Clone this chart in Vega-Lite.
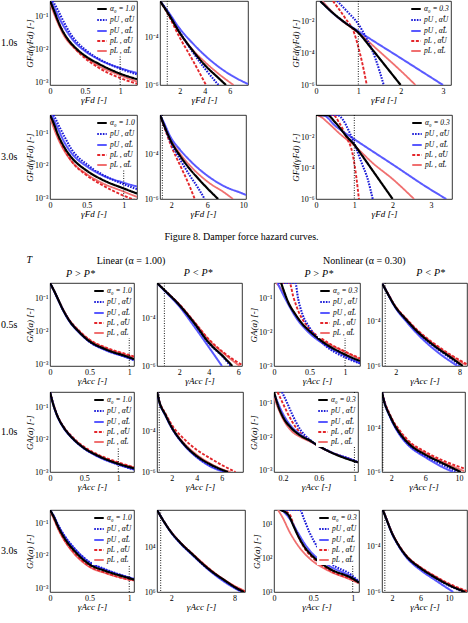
{
"$schema":"https://vega.github.io/schema/vega-lite/v6.json",
"background":"white",
"padding":0,
"spacing":12,
"resolve":{"scale":{"color":"independent","strokeDash":"independent","strokeWidth":"independent"}},
"datasets":{"c":[
{"p":"8A1","s":"e","x":0,"y":0.25},{"p":"8A1","s":"e","x":0.08,"y":0.09},{"p":"8A1","s":"e","x":0.2,"y":0.026},{"p":"8A1","s":"e","x":0.35,"y":0.011},{"p":"8A1","s":"e","x":0.5,"y":0.006},{"p":"8A1","s":"e","x":0.7,"y":0.0032},{"p":"8A1","s":"e","x":1,"y":0.0017},{"p":"8A1","s":"e","x":1.24,"y":0.0011},
{"p":"8A1","s":"d","x":0.02,"y":0.285},{"p":"8A1","s":"d","x":0.1,"y":0.085},{"p":"8A1","s":"d","x":0.2,"y":0.03},{"p":"8A1","s":"d","x":0.35,"y":0.011},{"p":"8A1","s":"d","x":0.5,"y":0.0055},{"p":"8A1","s":"d","x":0.7,"y":0.0028},{"p":"8A1","s":"d","x":1,"y":0.0014},{"p":"8A1","s":"d","x":1.24,"y":0.00095},
{"p":"8A1","s":"c","x":0.02,"y":0.285},{"p":"8A1","s":"c","x":0.1,"y":0.12},{"p":"8A1","s":"c","x":0.2,"y":0.048},{"p":"8A1","s":"c","x":0.35,"y":0.017},{"p":"8A1","s":"c","x":0.5,"y":0.009},{"p":"8A1","s":"c","x":0.7,"y":0.005},{"p":"8A1","s":"c","x":1,"y":0.0028},{"p":"8A1","s":"c","x":1.24,"y":0.002},
{"p":"8A1","s":"b","x":0.04,"y":0.285},{"p":"8A1","s":"b","x":0.1,"y":0.17},{"p":"8A1","s":"b","x":0.2,"y":0.065},{"p":"8A1","s":"b","x":0.3,"y":0.028},{"p":"8A1","s":"b","x":0.5,"y":0.01},{"p":"8A1","s":"b","x":0.7,"y":0.0052},{"p":"8A1","s":"b","x":1,"y":0.0027},{"p":"8A1","s":"b","x":1.24,"y":0.0018},
{"p":"8A1","s":"a","x":0,"y":0.285},{"p":"8A1","s":"a","x":0.05,"y":0.16},{"p":"8A1","s":"a","x":0.1,"y":0.085},{"p":"8A1","s":"a","x":0.15,"y":0.048},{"p":"8A1","s":"a","x":0.25,"y":0.021},{"p":"8A1","s":"a","x":0.35,"y":0.012},{"p":"8A1","s":"a","x":0.5,"y":0.0065},{"p":"8A1","s":"a","x":0.7,"y":0.0037},{"p":"8A1","s":"a","x":1,"y":0.0019},{"p":"8A1","s":"a","x":1.24,"y":0.0013},

{"p":"8B1","s":"e","x":0.42,"y":0.0035},{"p":"8B1","s":"e","x":1,"y":0.0012},{"p":"8B1","s":"e","x":2,"y":0.00015},{"p":"8B1","s":"e","x":3,"y":3.2e-5},{"p":"8B1","s":"e","x":4,"y":9.5e-6},{"p":"8B1","s":"e","x":5,"y":3.3e-6},{"p":"8B1","s":"e","x":6.3,"y":1e-6},
{"p":"8B1","s":"d","x":0.42,"y":0.0035},{"p":"8B1","s":"d","x":1,"y":0.0011},{"p":"8B1","s":"d","x":2,"y":0.0001},{"p":"8B1","s":"d","x":3,"y":1.2e-5},{"p":"8B1","s":"d","x":4.1,"y":1e-6},
{"p":"8B1","s":"c","x":0.42,"y":0.0035},{"p":"8B1","s":"c","x":1,"y":0.0014},{"p":"8B1","s":"c","x":2,"y":0.00024},{"p":"8B1","s":"c","x":3,"y":6e-5},{"p":"8B1","s":"c","x":4,"y":1.8e-5},{"p":"8B1","s":"c","x":5,"y":6.5e-6},{"p":"8B1","s":"c","x":6,"y":2.8e-6},{"p":"8B1","s":"c","x":7.46,"y":1.1e-6},
{"p":"8B1","s":"b","x":0.42,"y":0.0035},{"p":"8B1","s":"b","x":1,"y":0.0013},{"p":"8B1","s":"b","x":2,"y":0.00017},{"p":"8B1","s":"b","x":3,"y":2.6e-5},{"p":"8B1","s":"b","x":4,"y":5e-6},{"p":"8B1","s":"b","x":5.1,"y":1e-6},
{"p":"8B1","s":"a","x":0.42,"y":0.0035},{"p":"8B1","s":"a","x":1,"y":0.0012},{"p":"8B1","s":"a","x":2,"y":0.00016},{"p":"8B1","s":"a","x":3,"y":3e-5},{"p":"8B1","s":"a","x":4,"y":7e-6},{"p":"8B1","s":"a","x":5,"y":2.2e-6},{"p":"8B1","s":"a","x":5.7,"y":1e-6},

{"p":"8C1","s":"e","x":0.15,"y":0.2},{"p":"8C1","s":"e","x":0.5,"y":0.02},{"p":"8C1","s":"e","x":1,"y":0.002},{"p":"8C1","s":"e","x":1.5,"y":0.00013},{"p":"8C1","s":"e","x":2,"y":8e-6},{"p":"8C1","s":"e","x":2.35,"y":1e-6},
{"p":"8C1","s":"d","x":0.4,"y":0.2},{"p":"8C1","s":"d","x":0.7,"y":0.015},{"p":"8C1","s":"d","x":0.9,"y":0.002},{"p":"8C1","s":"d","x":1,"y":0.00025},{"p":"8C1","s":"d","x":1.1,"y":2e-5},{"p":"8C1","s":"d","x":1.2,"y":1e-6},
{"p":"8C1","s":"c","x":0.1,"y":0.2},{"p":"8C1","s":"c","x":0.5,"y":0.02},{"p":"8C1","s":"c","x":1,"y":0.0025},{"p":"8C1","s":"c","x":2,"y":5e-5},{"p":"8C1","s":"c","x":3,"y":1e-6},
{"p":"8C1","s":"b","x":0.5,"y":0.2},{"p":"8C1","s":"b","x":0.75,"y":0.04},{"p":"8C1","s":"b","x":1,"y":0.007},{"p":"8C1","s":"b","x":1.2,"y":0.0008},{"p":"8C1","s":"b","x":1.4,"y":5e-5},{"p":"8C1","s":"b","x":1.6,"y":1e-6},
{"p":"8C1","s":"a","x":0.1,"y":0.2},{"p":"8C1","s":"a","x":0.4,"y":0.035},{"p":"8C1","s":"a","x":0.7,"y":0.008},{"p":"8C1","s":"a","x":1,"y":0.002},{"p":"8C1","s":"a","x":1.3,"y":0.00022},{"p":"8C1","s":"a","x":1.6,"y":2.2e-5},{"p":"8C1","s":"a","x":2,"y":1e-6},

{"p":"8A2","s":"e","x":0,"y":0.3},{"p":"8A2","s":"e","x":0.1,"y":0.075},{"p":"8A2","s":"e","x":0.2,"y":0.027},{"p":"8A2","s":"e","x":0.3,"y":0.013},{"p":"8A2","s":"e","x":0.5,"y":0.0055},{"p":"8A2","s":"e","x":0.7,"y":0.003},{"p":"8A2","s":"e","x":1,"y":0.0016},{"p":"8A2","s":"e","x":1.18,"y":0.0011},
{"p":"8A2","s":"d","x":0.02,"y":0.36},{"p":"8A2","s":"d","x":0.1,"y":0.09},{"p":"8A2","s":"d","x":0.2,"y":0.03},{"p":"8A2","s":"d","x":0.3,"y":0.013},{"p":"8A2","s":"d","x":0.5,"y":0.005},{"p":"8A2","s":"d","x":0.7,"y":0.0026},{"p":"8A2","s":"d","x":1,"y":0.0012},{"p":"8A2","s":"d","x":1.18,"y":0.00085},
{"p":"8A2","s":"c","x":0.02,"y":0.36},{"p":"8A2","s":"c","x":0.1,"y":0.15},{"p":"8A2","s":"c","x":0.2,"y":0.05},{"p":"8A2","s":"c","x":0.3,"y":0.023},{"p":"8A2","s":"c","x":0.5,"y":0.0095},{"p":"8A2","s":"c","x":0.7,"y":0.0052},{"p":"8A2","s":"c","x":1,"y":0.003},{"p":"8A2","s":"c","x":1.18,"y":0.0023},
{"p":"8A2","s":"b","x":0.05,"y":0.36},{"p":"8A2","s":"b","x":0.1,"y":0.21},{"p":"8A2","s":"b","x":0.2,"y":0.075},{"p":"8A2","s":"b","x":0.3,"y":0.03},{"p":"8A2","s":"b","x":0.5,"y":0.011},{"p":"8A2","s":"b","x":0.7,"y":0.0055},{"p":"8A2","s":"b","x":1,"y":0.0027},{"p":"8A2","s":"b","x":1.18,"y":0.0019},
{"p":"8A2","s":"a","x":0,"y":0.36},{"p":"8A2","s":"a","x":0.05,"y":0.2},{"p":"8A2","s":"a","x":0.1,"y":0.1},{"p":"8A2","s":"a","x":0.2,"y":0.035},{"p":"8A2","s":"a","x":0.3,"y":0.017},{"p":"8A2","s":"a","x":0.5,"y":0.007},{"p":"8A2","s":"a","x":0.7,"y":0.0038},{"p":"8A2","s":"a","x":1,"y":0.002},{"p":"8A2","s":"a","x":1.18,"y":0.0014},

{"p":"8B2","s":"e","x":0.74,"y":0.0055},{"p":"8B2","s":"e","x":1,"y":0.003},{"p":"8B2","s":"e","x":2,"y":0.0004},{"p":"8B2","s":"e","x":3,"y":0.0001},{"p":"8B2","s":"e","x":4,"y":3.3e-5},{"p":"8B2","s":"e","x":6,"y":6e-6},{"p":"8B2","s":"e","x":8,"y":1.8e-6},{"p":"8B2","s":"e","x":8.85,"y":1e-6},
{"p":"8B2","s":"d","x":0.74,"y":0.0055},{"p":"8B2","s":"d","x":1,"y":0.0028},{"p":"8B2","s":"d","x":2,"y":0.00022},{"p":"8B2","s":"d","x":3,"y":3e-5},{"p":"8B2","s":"d","x":4,"y":4e-6},{"p":"8B2","s":"d","x":4.6,"y":1e-6},
{"p":"8B2","s":"c","x":0.74,"y":0.0055},{"p":"8B2","s":"c","x":1,"y":0.0035},{"p":"8B2","s":"c","x":2,"y":0.0005},{"p":"8B2","s":"c","x":3,"y":0.00015},{"p":"8B2","s":"c","x":4,"y":5.5e-5},{"p":"8B2","s":"c","x":6,"y":1.1e-5},{"p":"8B2","s":"c","x":8,"y":3.5e-6},{"p":"8B2","s":"c","x":10,"y":1.7e-6},{"p":"8B2","s":"c","x":10.3,"y":1.5e-6},
{"p":"8B2","s":"b","x":0.74,"y":0.0055},{"p":"8B2","s":"b","x":1,"y":0.003},{"p":"8B2","s":"b","x":2,"y":0.0003},{"p":"8B2","s":"b","x":3,"y":5.5e-5},{"p":"8B2","s":"b","x":4,"y":1.2e-5},{"p":"8B2","s":"b","x":5,"y":3e-6},{"p":"8B2","s":"b","x":5.7,"y":1e-6},
{"p":"8B2","s":"a","x":0.74,"y":0.0055},{"p":"8B2","s":"a","x":1,"y":0.003},{"p":"8B2","s":"a","x":2,"y":0.00035},{"p":"8B2","s":"a","x":3,"y":8e-5},{"p":"8B2","s":"a","x":4,"y":2.3e-5},{"p":"8B2","s":"a","x":5,"y":8e-6},{"p":"8B2","s":"a","x":6,"y":3e-6},{"p":"8B2","s":"a","x":7.2,"y":1e-6},

{"p":"8C2","s":"e","x":0,"y":0.3},{"p":"8C2","s":"e","x":0.1,"y":0.25},{"p":"8C2","s":"e","x":0.3,"y":0.1},{"p":"8C2","s":"e","x":0.6,"y":0.02},{"p":"8C2","s":"e","x":1,"y":0.003},{"p":"8C2","s":"e","x":1.5,"y":0.0002},{"p":"8C2","s":"e","x":2,"y":2e-5},{"p":"8C2","s":"e","x":2.56,"y":1e-6},
{"p":"8C2","s":"d","x":0,"y":0.3},{"p":"8C2","s":"d","x":0.45,"y":0.3},{"p":"8C2","s":"d","x":0.6,"y":0.1},{"p":"8C2","s":"d","x":0.8,"y":0.01},{"p":"8C2","s":"d","x":0.95,"y":0.001},{"p":"8C2","s":"d","x":1.05,"y":3e-5},{"p":"8C2","s":"d","x":1.12,"y":1e-6},
{"p":"8C2","s":"c","x":0,"y":0.3},{"p":"8C2","s":"c","x":0.2,"y":0.28},{"p":"8C2","s":"c","x":0.5,"y":0.06},{"p":"8C2","s":"c","x":1,"y":0.008},{"p":"8C2","s":"c","x":2,"y":0.00018},{"p":"8C2","s":"c","x":3,"y":4e-6},{"p":"8C2","s":"c","x":3.4,"y":1e-6},
{"p":"8C2","s":"b","x":0,"y":0.3},{"p":"8C2","s":"b","x":0.55,"y":0.3},{"p":"8C2","s":"b","x":0.7,"y":0.15},{"p":"8C2","s":"b","x":0.85,"y":0.03},{"p":"8C2","s":"b","x":1,"y":0.004},{"p":"8C2","s":"b","x":1.2,"y":0.0002},{"p":"8C2","s":"b","x":1.35,"y":2e-5},{"p":"8C2","s":"b","x":1.48,"y":1e-6},
{"p":"8C2","s":"a","x":0,"y":0.3},{"p":"8C2","s":"a","x":0.3,"y":0.29},{"p":"8C2","s":"a","x":0.5,"y":0.1},{"p":"8C2","s":"a","x":0.8,"y":0.012},{"p":"8C2","s":"a","x":1,"y":0.0035},{"p":"8C2","s":"a","x":1.2,"y":0.0007},{"p":"8C2","s":"a","x":1.5,"y":6e-5},{"p":"8C2","s":"a","x":2,"y":1e-6},

{"p":"9A1","s":"e","x":0,"y":0.305},{"p":"9A1","s":"e","x":0.05,"y":0.18},{"p":"9A1","s":"e","x":0.1,"y":0.1},{"p":"9A1","s":"e","x":0.15,"y":0.056},{"p":"9A1","s":"e","x":0.25,"y":0.022},{"p":"9A1","s":"e","x":0.35,"y":0.0118},{"p":"9A1","s":"e","x":0.5,"y":0.0057},{"p":"9A1","s":"e","x":0.7,"y":0.0033},{"p":"9A1","s":"e","x":1,"y":0.0019},{"p":"9A1","s":"e","x":1.06,"y":0.0017},
{"p":"9A1","s":"d","x":0,"y":0.305},{"p":"9A1","s":"d","x":0.05,"y":0.18},{"p":"9A1","s":"d","x":0.1,"y":0.1},{"p":"9A1","s":"d","x":0.15,"y":0.056},{"p":"9A1","s":"d","x":0.25,"y":0.022},{"p":"9A1","s":"d","x":0.35,"y":0.012},{"p":"9A1","s":"d","x":0.5,"y":0.0058},{"p":"9A1","s":"d","x":0.7,"y":0.0034},{"p":"9A1","s":"d","x":1,"y":0.002},{"p":"9A1","s":"d","x":1.06,"y":0.0018},
{"p":"9A1","s":"c","x":0,"y":0.3},{"p":"9A1","s":"c","x":0.05,"y":0.175},{"p":"9A1","s":"c","x":0.1,"y":0.097},{"p":"9A1","s":"c","x":0.15,"y":0.053},{"p":"9A1","s":"c","x":0.25,"y":0.02},{"p":"9A1","s":"c","x":0.35,"y":0.0105},{"p":"9A1","s":"c","x":0.5,"y":0.005},{"p":"9A1","s":"c","x":0.7,"y":0.0028},{"p":"9A1","s":"c","x":1,"y":0.0016},{"p":"9A1","s":"c","x":1.06,"y":0.0014},
{"p":"9A1","s":"b","x":0,"y":0.305},{"p":"9A1","s":"b","x":0.05,"y":0.18},{"p":"9A1","s":"b","x":0.1,"y":0.1},{"p":"9A1","s":"b","x":0.15,"y":0.055},{"p":"9A1","s":"b","x":0.25,"y":0.021},{"p":"9A1","s":"b","x":0.35,"y":0.011},{"p":"9A1","s":"b","x":0.5,"y":0.005},{"p":"9A1","s":"b","x":0.7,"y":0.0029},{"p":"9A1","s":"b","x":1,"y":0.0016},{"p":"9A1","s":"b","x":1.06,"y":0.0014},
{"p":"9A1","s":"a","x":0,"y":0.305},{"p":"9A1","s":"a","x":0.05,"y":0.18},{"p":"9A1","s":"a","x":0.1,"y":0.1},{"p":"9A1","s":"a","x":0.15,"y":0.055},{"p":"9A1","s":"a","x":0.25,"y":0.021},{"p":"9A1","s":"a","x":0.35,"y":0.011},{"p":"9A1","s":"a","x":0.5,"y":0.0052},{"p":"9A1","s":"a","x":0.7,"y":0.003},{"p":"9A1","s":"a","x":1,"y":0.0017},{"p":"9A1","s":"a","x":1.06,"y":0.0015},

{"p":"9B1","s":"e","x":0.5,"y":0.0034},{"p":"9B1","s":"e","x":1,"y":0.0017},{"p":"9B1","s":"e","x":2,"y":0.00042},{"p":"9B1","s":"e","x":3,"y":7.8e-5},{"p":"9B1","s":"e","x":4,"y":1.3e-5},{"p":"9B1","s":"e","x":5,"y":3.5e-6},{"p":"9B1","s":"e","x":6.1,"y":1e-6},
{"p":"9B1","s":"d","x":0.5,"y":0.0034},{"p":"9B1","s":"d","x":1,"y":0.0017},{"p":"9B1","s":"d","x":2,"y":0.00043},{"p":"9B1","s":"d","x":3,"y":8e-5},{"p":"9B1","s":"d","x":4,"y":1.4e-5},{"p":"9B1","s":"d","x":5,"y":3.8e-6},{"p":"9B1","s":"d","x":6.26,"y":1.1e-6},
{"p":"9B1","s":"c","x":0.5,"y":0.0034},{"p":"9B1","s":"c","x":1,"y":0.0016},{"p":"9B1","s":"c","x":2,"y":0.00035},{"p":"9B1","s":"c","x":3,"y":5e-5},{"p":"9B1","s":"c","x":4,"y":6.5e-6},{"p":"9B1","s":"c","x":4.9,"y":1e-6},
{"p":"9B1","s":"b","x":0.5,"y":0.0034},{"p":"9B1","s":"b","x":1,"y":0.0017},{"p":"9B1","s":"b","x":2,"y":0.0004},{"p":"9B1","s":"b","x":3,"y":6.8e-5},{"p":"9B1","s":"b","x":4,"y":9.5e-6},{"p":"9B1","s":"b","x":5,"y":2.3e-6},{"p":"9B1","s":"b","x":5.5,"y":1e-6},
{"p":"9B1","s":"a","x":0.5,"y":0.0034},{"p":"9B1","s":"a","x":1,"y":0.0017},{"p":"9B1","s":"a","x":2,"y":0.0004},{"p":"9B1","s":"a","x":3,"y":7e-5},{"p":"9B1","s":"a","x":4,"y":1e-5},{"p":"9B1","s":"a","x":5,"y":2.5e-6},{"p":"9B1","s":"a","x":5.6,"y":1e-6},

{"p":"9C1","s":"e","x":0.03,"y":0.3},{"p":"9C1","s":"e","x":0.1,"y":0.2},{"p":"9C1","s":"e","x":0.2,"y":0.08},{"p":"9C1","s":"e","x":0.3,"y":0.035},{"p":"9C1","s":"e","x":0.5,"y":0.011},{"p":"9C1","s":"e","x":0.7,"y":0.0055},{"p":"9C1","s":"e","x":1,"y":0.0026},{"p":"9C1","s":"e","x":1.21,"y":0.0016},
{"p":"9C1","s":"d","x":0.05,"y":0.3},{"p":"9C1","s":"d","x":0.22,"y":0.3},{"p":"9C1","s":"d","x":0.27,"y":0.12},{"p":"9C1","s":"d","x":0.35,"y":0.04},{"p":"9C1","s":"d","x":0.5,"y":0.013},{"p":"9C1","s":"d","x":0.7,"y":0.006},{"p":"9C1","s":"d","x":1,"y":0.0027},{"p":"9C1","s":"d","x":1.21,"y":0.0017},
{"p":"9C1","s":"c","x":0.05,"y":0.3},{"p":"9C1","s":"c","x":0.1,"y":0.18},{"p":"9C1","s":"c","x":0.2,"y":0.07},{"p":"9C1","s":"c","x":0.3,"y":0.03},{"p":"9C1","s":"c","x":0.5,"y":0.0095},{"p":"9C1","s":"c","x":0.7,"y":0.0045},{"p":"9C1","s":"c","x":1,"y":0.002},{"p":"9C1","s":"c","x":1.21,"y":0.0012},
{"p":"9C1","s":"b","x":0.06,"y":0.3},{"p":"9C1","s":"b","x":0.3,"y":0.3},{"p":"9C1","s":"b","x":0.34,"y":0.1},{"p":"9C1","s":"b","x":0.4,"y":0.035},{"p":"9C1","s":"b","x":0.5,"y":0.014},{"p":"9C1","s":"b","x":0.7,"y":0.0045},{"p":"9C1","s":"b","x":1,"y":0.0018},{"p":"9C1","s":"b","x":1.21,"y":0.0012},
{"p":"9C1","s":"a","x":0.1,"y":0.3},{"p":"9C1","s":"a","x":0.15,"y":0.15},{"p":"9C1","s":"a","x":0.2,"y":0.08},{"p":"9C1","s":"a","x":0.3,"y":0.035},{"p":"9C1","s":"a","x":0.4,"y":0.018},{"p":"9C1","s":"a","x":0.5,"y":0.011},{"p":"9C1","s":"a","x":0.7,"y":0.005},{"p":"9C1","s":"a","x":1,"y":0.0022},{"p":"9C1","s":"a","x":1.21,"y":0.0014},

{"p":"9D1","s":"e","x":0.75,"y":0.005},{"p":"9D1","s":"e","x":1,"y":0.0031},{"p":"9D1","s":"e","x":2,"y":0.00046},{"p":"9D1","s":"e","x":3,"y":0.00013},{"p":"9D1","s":"e","x":4,"y":4.1e-5},{"p":"9D1","s":"e","x":5,"y":1.6e-5},{"p":"9D1","s":"e","x":6,"y":7e-6},{"p":"9D1","s":"e","x":7,"y":3.3e-6},{"p":"9D1","s":"e","x":8.6,"y":1.1e-6},
{"p":"9D1","s":"d","x":0.75,"y":0.005},{"p":"9D1","s":"d","x":1,"y":0.0031},{"p":"9D1","s":"d","x":2,"y":0.00047},{"p":"9D1","s":"d","x":3,"y":0.000135},{"p":"9D1","s":"d","x":4,"y":4.3e-5},{"p":"9D1","s":"d","x":5,"y":1.7e-5},{"p":"9D1","s":"d","x":6,"y":7.5e-6},{"p":"9D1","s":"d","x":7,"y":3.6e-6},{"p":"9D1","s":"d","x":8.7,"y":1.2e-6},
{"p":"9D1","s":"c","x":0.75,"y":0.005},{"p":"9D1","s":"c","x":1,"y":0.003},{"p":"9D1","s":"c","x":2,"y":0.0004},{"p":"9D1","s":"c","x":3,"y":0.0001},{"p":"9D1","s":"c","x":4,"y":2.9e-5},{"p":"9D1","s":"c","x":5,"y":1e-5},{"p":"9D1","s":"c","x":6,"y":4e-6},{"p":"9D1","s":"c","x":7.8,"y":1e-6},
{"p":"9D1","s":"b","x":0.75,"y":0.005},{"p":"9D1","s":"b","x":1,"y":0.003},{"p":"9D1","s":"b","x":2,"y":0.00043},{"p":"9D1","s":"b","x":3,"y":0.000115},{"p":"9D1","s":"b","x":4,"y":3.5e-5},{"p":"9D1","s":"b","x":5,"y":1.3e-5},{"p":"9D1","s":"b","x":6,"y":5.5e-6},{"p":"9D1","s":"b","x":7,"y":2.5e-6},{"p":"9D1","s":"b","x":8.1,"y":1e-6},
{"p":"9D1","s":"a","x":0.75,"y":0.005},{"p":"9D1","s":"a","x":1,"y":0.003},{"p":"9D1","s":"a","x":2,"y":0.00044},{"p":"9D1","s":"a","x":3,"y":0.00012},{"p":"9D1","s":"a","x":4,"y":3.7e-5},{"p":"9D1","s":"a","x":5,"y":1.4e-5},{"p":"9D1","s":"a","x":6,"y":6e-6},{"p":"9D1","s":"a","x":7,"y":2.8e-6},{"p":"9D1","s":"a","x":8.3,"y":1e-6},

{"p":"9A2","s":"e","x":0,"y":0.3},{"p":"9A2","s":"e","x":0.05,"y":0.12},{"p":"9A2","s":"e","x":0.1,"y":0.06},{"p":"9A2","s":"e","x":0.2,"y":0.024},{"p":"9A2","s":"e","x":0.3,"y":0.0133},{"p":"9A2","s":"e","x":0.5,"y":0.0057},{"p":"9A2","s":"e","x":0.7,"y":0.0033},{"p":"9A2","s":"e","x":1,"y":0.0019},{"p":"9A2","s":"e","x":1.23,"y":0.0014},
{"p":"9A2","s":"d","x":0,"y":0.3},{"p":"9A2","s":"d","x":0.05,"y":0.125},{"p":"9A2","s":"d","x":0.1,"y":0.062},{"p":"9A2","s":"d","x":0.2,"y":0.025},{"p":"9A2","s":"d","x":0.3,"y":0.014},{"p":"9A2","s":"d","x":0.5,"y":0.006},{"p":"9A2","s":"d","x":0.7,"y":0.0035},{"p":"9A2","s":"d","x":1,"y":0.002},{"p":"9A2","s":"d","x":1.23,"y":0.0014},
{"p":"9A2","s":"c","x":0,"y":0.3},{"p":"9A2","s":"c","x":0.05,"y":0.118},{"p":"9A2","s":"c","x":0.1,"y":0.058},{"p":"9A2","s":"c","x":0.2,"y":0.023},{"p":"9A2","s":"c","x":0.3,"y":0.0125},{"p":"9A2","s":"c","x":0.5,"y":0.0053},{"p":"9A2","s":"c","x":0.7,"y":0.003},{"p":"9A2","s":"c","x":1,"y":0.0017},{"p":"9A2","s":"c","x":1.23,"y":0.0012},
{"p":"9A2","s":"b","x":0,"y":0.3},{"p":"9A2","s":"b","x":0.05,"y":0.12},{"p":"9A2","s":"b","x":0.1,"y":0.06},{"p":"9A2","s":"b","x":0.2,"y":0.024},{"p":"9A2","s":"b","x":0.3,"y":0.013},{"p":"9A2","s":"b","x":0.5,"y":0.0054},{"p":"9A2","s":"b","x":0.7,"y":0.0031},{"p":"9A2","s":"b","x":1,"y":0.0017},{"p":"9A2","s":"b","x":1.23,"y":0.0012},
{"p":"9A2","s":"a","x":0,"y":0.3},{"p":"9A2","s":"a","x":0.05,"y":0.12},{"p":"9A2","s":"a","x":0.1,"y":0.06},{"p":"9A2","s":"a","x":0.2,"y":0.024},{"p":"9A2","s":"a","x":0.3,"y":0.013},{"p":"9A2","s":"a","x":0.5,"y":0.0055},{"p":"9A2","s":"a","x":0.7,"y":0.0032},{"p":"9A2","s":"a","x":1,"y":0.0018},{"p":"9A2","s":"a","x":1.23,"y":0.0013},

{"p":"9B2","s":"e","x":0.82,"y":0.008},{"p":"9B2","s":"e","x":1,"y":0.0029},{"p":"9B2","s":"e","x":1.5,"y":0.00063},{"p":"9B2","s":"e","x":2,"y":0.00016},{"p":"9B2","s":"e","x":3,"y":2.5e-5},{"p":"9B2","s":"e","x":4,"y":7e-6},{"p":"9B2","s":"e","x":5,"y":2.8e-6},{"p":"9B2","s":"e","x":6,"y":1.4e-6},{"p":"9B2","s":"e","x":6.7,"y":1e-6},
{"p":"9B2","s":"d","x":0.82,"y":0.008},{"p":"9B2","s":"d","x":1,"y":0.003},{"p":"9B2","s":"d","x":1.5,"y":0.0007},{"p":"9B2","s":"d","x":2,"y":0.0002},{"p":"9B2","s":"d","x":3,"y":4e-5},{"p":"9B2","s":"d","x":4,"y":1.2e-5},{"p":"9B2","s":"d","x":5,"y":5e-6},{"p":"9B2","s":"d","x":6,"y":2.2e-6},{"p":"9B2","s":"d","x":7.1,"y":1e-6},
{"p":"9B2","s":"c","x":0.82,"y":0.008},{"p":"9B2","s":"c","x":1,"y":0.0027},{"p":"9B2","s":"c","x":1.5,"y":0.00056},{"p":"9B2","s":"c","x":2,"y":0.00014},{"p":"9B2","s":"c","x":3,"y":2e-5},{"p":"9B2","s":"c","x":4,"y":5.2e-6},{"p":"9B2","s":"c","x":5,"y":2e-6},{"p":"9B2","s":"c","x":6.2,"y":1e-6},
{"p":"9B2","s":"b","x":0.82,"y":0.008},{"p":"9B2","s":"b","x":1,"y":0.0027},{"p":"9B2","s":"b","x":1.5,"y":0.00058},{"p":"9B2","s":"b","x":2,"y":0.000145},{"p":"9B2","s":"b","x":3,"y":2.1e-5},{"p":"9B2","s":"b","x":4,"y":5.5e-6},{"p":"9B2","s":"b","x":5,"y":2.2e-6},{"p":"9B2","s":"b","x":6.4,"y":1e-6},
{"p":"9B2","s":"a","x":0.82,"y":0.008},{"p":"9B2","s":"a","x":1,"y":0.0028},{"p":"9B2","s":"a","x":1.5,"y":0.0006},{"p":"9B2","s":"a","x":2,"y":0.00015},{"p":"9B2","s":"a","x":3,"y":2.2e-5},{"p":"9B2","s":"a","x":4,"y":6e-6},{"p":"9B2","s":"a","x":5,"y":2.5e-6},{"p":"9B2","s":"a","x":6,"y":1.3e-6},{"p":"9B2","s":"a","x":6.5,"y":1e-6},

{"p":"9C2","s":"e","x":0.1,"y":0.15},{"p":"9C2","s":"e","x":0.2,"y":0.035},{"p":"9C2","s":"e","x":0.3,"y":0.015},{"p":"9C2","s":"e","x":0.4,"y":0.01},{"p":"9C2","s":"e","x":0.5,"y":0.0075},{"p":"9C2","s":"e","x":0.7,"y":0.0039},{"p":"9C2","s":"e","x":1,"y":0.002},{"p":"9C2","s":"e","x":1.04,"y":0.0018},
{"p":"9C2","s":"d","x":0.14,"y":0.22},{"p":"9C2","s":"d","x":0.2,"y":0.1},{"p":"9C2","s":"d","x":0.3,"y":0.03},{"p":"9C2","s":"d","x":0.4,"y":0.013},{"p":"9C2","s":"d","x":0.5,"y":0.008},{"p":"9C2","s":"d","x":0.7,"y":0.004},{"p":"9C2","s":"d","x":1,"y":0.002},{"p":"9C2","s":"d","x":1.04,"y":0.0018},
{"p":"9C2","s":"c","x":0.1,"y":0.2},{"p":"9C2","s":"c","x":0.2,"y":0.05},{"p":"9C2","s":"c","x":0.3,"y":0.02},{"p":"9C2","s":"c","x":0.4,"y":0.012},{"p":"9C2","s":"c","x":0.5,"y":0.008},{"p":"9C2","s":"c","x":0.7,"y":0.004},{"p":"9C2","s":"c","x":1,"y":0.002},{"p":"9C2","s":"c","x":1.04,"y":0.0018},
{"p":"9C2","s":"b","x":0.19,"y":0.22},{"p":"9C2","s":"b","x":0.25,"y":0.1},{"p":"9C2","s":"b","x":0.3,"y":0.05},{"p":"9C2","s":"b","x":0.4,"y":0.016},{"p":"9C2","s":"b","x":0.5,"y":0.0085},{"p":"9C2","s":"b","x":0.7,"y":0.004},{"p":"9C2","s":"b","x":1,"y":0.002},{"p":"9C2","s":"b","x":1.04,"y":0.0018},
{"p":"9C2","s":"a","x":0.1,"y":0.22},{"p":"9C2","s":"a","x":0.15,"y":0.08},{"p":"9C2","s":"a","x":0.2,"y":0.04},{"p":"9C2","s":"a","x":0.3,"y":0.018},{"p":"9C2","s":"a","x":0.4,"y":0.011},{"p":"9C2","s":"a","x":0.5,"y":0.008},{"p":"9C2","s":"a","x":0.6,"y":0.0055},{"p":"9C2","s":"a","x":0.8,"y":0.003},{"p":"9C2","s":"a","x":1.04,"y":0.0018},

{"p":"9D2","s":"e","x":0.9,"y":0.0045},{"p":"9D2","s":"e","x":1,"y":0.0031},{"p":"9D2","s":"e","x":2,"y":0.0003},{"p":"9D2","s":"e","x":3,"y":7e-5},{"p":"9D2","s":"e","x":4,"y":2.5e-5},{"p":"9D2","s":"e","x":6,"y":7.5e-6},{"p":"9D2","s":"e","x":8,"y":3e-6},{"p":"9D2","s":"e","x":10.6,"y":1.1e-6},
{"p":"9D2","s":"d","x":0.9,"y":0.0045},{"p":"9D2","s":"d","x":1,"y":0.0032},{"p":"9D2","s":"d","x":2,"y":0.00032},{"p":"9D2","s":"d","x":3,"y":8e-5},{"p":"9D2","s":"d","x":4,"y":2.8e-5},{"p":"9D2","s":"d","x":6,"y":8.5e-6},{"p":"9D2","s":"d","x":8,"y":3.5e-6},{"p":"9D2","s":"d","x":10.7,"y":1.4e-6},
{"p":"9D2","s":"c","x":0.9,"y":0.0045},{"p":"9D2","s":"c","x":1,"y":0.003},{"p":"9D2","s":"c","x":2,"y":0.00025},{"p":"9D2","s":"c","x":3,"y":5e-5},{"p":"9D2","s":"c","x":4,"y":1.7e-5},{"p":"9D2","s":"c","x":6,"y":4.8e-6},{"p":"9D2","s":"c","x":8,"y":1.7e-6},{"p":"9D2","s":"c","x":9.3,"y":1e-6},
{"p":"9D2","s":"b","x":0.9,"y":0.0045},{"p":"9D2","s":"b","x":1,"y":0.003},{"p":"9D2","s":"b","x":2,"y":0.00026},{"p":"9D2","s":"b","x":3,"y":5.5e-5},{"p":"9D2","s":"b","x":4,"y":1.9e-5},{"p":"9D2","s":"b","x":6,"y":5.5e-6},{"p":"9D2","s":"b","x":8,"y":2.2e-6},{"p":"9D2","s":"b","x":9.8,"y":1e-6},
{"p":"9D2","s":"a","x":0.9,"y":0.0045},{"p":"9D2","s":"a","x":1,"y":0.003},{"p":"9D2","s":"a","x":2,"y":0.00028},{"p":"9D2","s":"a","x":3,"y":6e-5},{"p":"9D2","s":"a","x":4,"y":2.1e-5},{"p":"9D2","s":"a","x":6,"y":6.3e-6},{"p":"9D2","s":"a","x":8,"y":2.6e-6},{"p":"9D2","s":"a","x":10.2,"y":1e-6},

{"p":"9A3","s":"e","x":0,"y":0.24},{"p":"9A3","s":"e","x":0.05,"y":0.13},{"p":"9A3","s":"e","x":0.1,"y":0.068},{"p":"9A3","s":"e","x":0.2,"y":0.025},{"p":"9A3","s":"e","x":0.3,"y":0.012},{"p":"9A3","s":"e","x":0.5,"y":0.0046},{"p":"9A3","s":"e","x":0.7,"y":0.003},{"p":"9A3","s":"e","x":1,"y":0.0019},{"p":"9A3","s":"e","x":1.06,"y":0.0018},
{"p":"9A3","s":"d","x":0,"y":0.25},{"p":"9A3","s":"d","x":0.05,"y":0.14},{"p":"9A3","s":"d","x":0.1,"y":0.072},{"p":"9A3","s":"d","x":0.2,"y":0.026},{"p":"9A3","s":"d","x":0.3,"y":0.013},{"p":"9A3","s":"d","x":0.5,"y":0.0048},{"p":"9A3","s":"d","x":0.7,"y":0.0031},{"p":"9A3","s":"d","x":1,"y":0.0019},{"p":"9A3","s":"d","x":1.06,"y":0.0018},
{"p":"9A3","s":"c","x":0,"y":0.25},{"p":"9A3","s":"c","x":0.05,"y":0.16},{"p":"9A3","s":"c","x":0.1,"y":0.088},{"p":"9A3","s":"c","x":0.2,"y":0.035},{"p":"9A3","s":"c","x":0.3,"y":0.0175},{"p":"9A3","s":"c","x":0.5,"y":0.0063},{"p":"9A3","s":"c","x":0.7,"y":0.0038},{"p":"9A3","s":"c","x":1,"y":0.0022},{"p":"9A3","s":"c","x":1.06,"y":0.002},
{"p":"9A3","s":"b","x":0,"y":0.25},{"p":"9A3","s":"b","x":0.05,"y":0.16},{"p":"9A3","s":"b","x":0.1,"y":0.09},{"p":"9A3","s":"b","x":0.2,"y":0.036},{"p":"9A3","s":"b","x":0.3,"y":0.018},{"p":"9A3","s":"b","x":0.5,"y":0.0065},{"p":"9A3","s":"b","x":0.7,"y":0.0039},{"p":"9A3","s":"b","x":1,"y":0.0022},{"p":"9A3","s":"b","x":1.06,"y":0.002},
{"p":"9A3","s":"a","x":0,"y":0.25},{"p":"9A3","s":"a","x":0.05,"y":0.15},{"p":"9A3","s":"a","x":0.1,"y":0.08},{"p":"9A3","s":"a","x":0.2,"y":0.03},{"p":"9A3","s":"a","x":0.3,"y":0.015},{"p":"9A3","s":"a","x":0.5,"y":0.0055},{"p":"9A3","s":"a","x":0.7,"y":0.0035},{"p":"9A3","s":"a","x":1,"y":0.0021},{"p":"9A3","s":"a","x":1.06,"y":0.0019},

{"p":"9B3","s":"e","x":0.65,"y":0.0048},{"p":"9B3","s":"e","x":1,"y":0.0025},{"p":"9B3","s":"e","x":2,"y":0.00049},{"p":"9B3","s":"e","x":3,"y":0.000145},{"p":"9B3","s":"e","x":4,"y":5.3e-5},{"p":"9B3","s":"e","x":6,"y":8e-6},{"p":"9B3","s":"e","x":8,"y":1.9e-6},{"p":"9B3","s":"e","x":9,"y":1.1e-6},
{"p":"9B3","s":"d","x":0.65,"y":0.0048},{"p":"9B3","s":"d","x":1,"y":0.0025},{"p":"9B3","s":"d","x":2,"y":0.00049},{"p":"9B3","s":"d","x":3,"y":0.000145},{"p":"9B3","s":"d","x":4,"y":5.2e-5},{"p":"9B3","s":"d","x":6,"y":7.8e-6},{"p":"9B3","s":"d","x":8,"y":1.8e-6},{"p":"9B3","s":"d","x":9,"y":1.05e-6},
{"p":"9B3","s":"c","x":0.65,"y":0.0048},{"p":"9B3","s":"c","x":1,"y":0.0025},{"p":"9B3","s":"c","x":2,"y":0.00046},{"p":"9B3","s":"c","x":3,"y":0.00013},{"p":"9B3","s":"c","x":4,"y":4.6e-5},{"p":"9B3","s":"c","x":6,"y":6.6e-6},{"p":"9B3","s":"c","x":8,"y":1.5e-6},{"p":"9B3","s":"c","x":8.7,"y":1e-6},
{"p":"9B3","s":"b","x":0.65,"y":0.0048},{"p":"9B3","s":"b","x":1,"y":0.0025},{"p":"9B3","s":"b","x":2,"y":0.00047},{"p":"9B3","s":"b","x":3,"y":0.000135},{"p":"9B3","s":"b","x":4,"y":4.8e-5},{"p":"9B3","s":"b","x":5,"y":1.7e-5},{"p":"9B3","s":"b","x":6,"y":7e-6},{"p":"9B3","s":"b","x":7,"y":3.3e-6},{"p":"9B3","s":"b","x":8,"y":1.6e-6},{"p":"9B3","s":"b","x":8.8,"y":1e-6},
{"p":"9B3","s":"a","x":0.65,"y":0.0048},{"p":"9B3","s":"a","x":1,"y":0.0025},{"p":"9B3","s":"a","x":2,"y":0.00048},{"p":"9B3","s":"a","x":3,"y":0.00014},{"p":"9B3","s":"a","x":4,"y":5e-5},{"p":"9B3","s":"a","x":5,"y":1.8e-5},{"p":"9B3","s":"a","x":6,"y":7.4e-6},{"p":"9B3","s":"a","x":7,"y":3.5e-6},{"p":"9B3","s":"a","x":8,"y":1.7e-6},{"p":"9B3","s":"a","x":8.9,"y":1e-6},

{"p":"9C3","s":"e","x":0.05,"y":0.275},{"p":"9C3","s":"e","x":0.1,"y":0.18},{"p":"9C3","s":"e","x":0.2,"y":0.06},{"p":"9C3","s":"e","x":0.3,"y":0.025},{"p":"9C3","s":"e","x":0.4,"y":0.013},{"p":"9C3","s":"e","x":0.5,"y":0.008},{"p":"9C3","s":"e","x":0.7,"y":0.0042},{"p":"9C3","s":"e","x":1,"y":0.0022},{"p":"9C3","s":"e","x":1.08,"y":0.0018},
{"p":"9C3","s":"d","x":0.1,"y":0.275},{"p":"9C3","s":"d","x":0.2,"y":0.2},{"p":"9C3","s":"d","x":0.25,"y":0.1},{"p":"9C3","s":"d","x":0.3,"y":0.05},{"p":"9C3","s":"d","x":0.4,"y":0.018},{"p":"9C3","s":"d","x":0.5,"y":0.01},{"p":"9C3","s":"d","x":0.7,"y":0.0045},{"p":"9C3","s":"d","x":1,"y":0.0023},{"p":"9C3","s":"d","x":1.08,"y":0.0019},
{"p":"9C3","s":"c","x":0.1,"y":0.275},{"p":"9C3","s":"c","x":0.2,"y":0.15},{"p":"9C3","s":"c","x":0.3,"y":0.06},{"p":"9C3","s":"c","x":0.4,"y":0.025},{"p":"9C3","s":"c","x":0.5,"y":0.013},{"p":"9C3","s":"c","x":0.7,"y":0.006},{"p":"9C3","s":"c","x":1,"y":0.0027},{"p":"9C3","s":"c","x":1.08,"y":0.002},
{"p":"9C3","s":"b","x":0.12,"y":0.275},{"p":"9C3","s":"b","x":0.33,"y":0.275},{"p":"9C3","s":"b","x":0.38,"y":0.15},{"p":"9C3","s":"b","x":0.45,"y":0.06},{"p":"9C3","s":"b","x":0.55,"y":0.022},{"p":"9C3","s":"b","x":0.7,"y":0.008},{"p":"9C3","s":"b","x":1,"y":0.003},{"p":"9C3","s":"b","x":1.08,"y":0.002},
{"p":"9C3","s":"a","x":0.08,"y":0.275},{"p":"9C3","s":"a","x":0.18,"y":0.2},{"p":"9C3","s":"a","x":0.25,"y":0.09},{"p":"9C3","s":"a","x":0.3,"y":0.05},{"p":"9C3","s":"a","x":0.4,"y":0.02},{"p":"9C3","s":"a","x":0.5,"y":0.011},{"p":"9C3","s":"a","x":0.7,"y":0.005},{"p":"9C3","s":"a","x":1,"y":0.0025},{"p":"9C3","s":"a","x":1.08,"y":0.0019},

{"p":"9D3","s":"e","x":0.7,"y":0.0037},{"p":"9D3","s":"e","x":1,"y":0.0023},{"p":"9D3","s":"e","x":2,"y":0.00038},{"p":"9D3","s":"e","x":3,"y":0.000105},{"p":"9D3","s":"e","x":4,"y":3.9e-5},{"p":"9D3","s":"e","x":6,"y":1.2e-5},{"p":"9D3","s":"e","x":8,"y":4.9e-6},{"p":"9D3","s":"e","x":10,"y":2.2e-6},{"p":"9D3","s":"e","x":12.54,"y":1.05e-6},
{"p":"9D3","s":"d","x":0.7,"y":0.0037},{"p":"9D3","s":"d","x":1,"y":0.0023},{"p":"9D3","s":"d","x":2,"y":0.00038},{"p":"9D3","s":"d","x":3,"y":0.000105},{"p":"9D3","s":"d","x":4,"y":3.9e-5},{"p":"9D3","s":"d","x":6,"y":1.2e-5},{"p":"9D3","s":"d","x":8,"y":5e-6},{"p":"9D3","s":"d","x":10,"y":2.3e-6},{"p":"9D3","s":"d","x":12.54,"y":1.1e-6},
{"p":"9D3","s":"c","x":0.7,"y":0.0037},{"p":"9D3","s":"c","x":1,"y":0.0022},{"p":"9D3","s":"c","x":2,"y":0.00035},{"p":"9D3","s":"c","x":3,"y":9.2e-5},{"p":"9D3","s":"c","x":4,"y":3.3e-5},{"p":"9D3","s":"c","x":6,"y":9e-6},{"p":"9D3","s":"c","x":8,"y":3.4e-6},{"p":"9D3","s":"c","x":10.6,"y":1e-6},
{"p":"9D3","s":"b","x":0.7,"y":0.0037},{"p":"9D3","s":"b","x":1,"y":0.0022},{"p":"9D3","s":"b","x":2,"y":0.00036},{"p":"9D3","s":"b","x":3,"y":9.8e-5},{"p":"9D3","s":"b","x":4,"y":3.6e-5},{"p":"9D3","s":"b","x":6,"y":1.05e-5},{"p":"9D3","s":"b","x":8,"y":4.2e-6},{"p":"9D3","s":"b","x":10,"y":1.9e-6},{"p":"9D3","s":"b","x":12.1,"y":1e-6},
{"p":"9D3","s":"a","x":0.7,"y":0.0037},{"p":"9D3","s":"a","x":1,"y":0.0022},{"p":"9D3","s":"a","x":2,"y":0.00037},{"p":"9D3","s":"a","x":3,"y":0.0001},{"p":"9D3","s":"a","x":4,"y":3.7e-5},{"p":"9D3","s":"a","x":6,"y":1.1e-5},{"p":"9D3","s":"a","x":8,"y":4.4e-6},{"p":"9D3","s":"a","x":10,"y":2e-6},{"p":"9D3","s":"a","x":12.3,"y":1e-6}
]},
"vconcat":[
{"title":{"text":"Figure 8. Damper force hazard curves.","orient":"bottom","anchor":"middle","dx":15,"offset":14},
 "spacing":41,
 "resolve":{"scale":{"color":"independent","strokeDash":"independent","strokeWidth":"independent"}},
 "hconcat":[
  {"spacing":5,"resolve":{"scale":{"color":"independent","strokeDash":"independent","strokeWidth":"independent"}},"hconcat":[
   {"spacing":9,"resolve":{"scale":{"color":"independent","strokeDash":"independent","strokeWidth":"independent"}},"vconcat":[
    {"width":87,"height":84,
     "title":{"text":"1.0s","orient":"left","angle":0,"anchor":"middle","frame":"group","align":"center","baseline":"middle","offset":0},
     "layer":[
      {"data":{"name":"c"},"transform":[{"filter":"datum.p=='8A1'"}],"mark":{"type":"line","clip":true,"interpolate":"monotone"},
       "encoding":{
        "x":{"field":"x","type":"quantitative","scale":{"domain":[0,1.24],"nice":false,"zero":false},"axis":{"values":[0,0.5,1],"format":"~r","title":"γFd  [-]"}},
        "y":{"field":"y","type":"quantitative","scale":{"type":"log","domain":[0.00087,0.285],"nice":false},"axis":{"values":[0.001,0.01,0.1],"title":"GFd(γFd)  [-]","labelExpr":"'10'+replace(replace(replace(replace(replace(replace(replace(''+round(log(datum.value)/LN10),'-','⁻'),'1','¹'),'2','²'),'3','³'),'4','⁴'),'5','⁵'),'6','⁶')"}},
        "color":{"field":"s","type":"nominal","title":null,"scale":{"domain":["a","b","c","d","e"],"range":["#000000","#1c1cd8","#5a5aff","#e3262b","#f07070"]},"legend":{"labelExpr":"datum.label=='a'?'α₀ = 1.0':datum.label=='b'?'pU , α̂U':datum.label=='c'?'pU , α̂L':datum.label=='d'?'pL , α̂U':'pL , α̂L'"}},
        "strokeDash":{"field":"s","type":"nominal","title":null,"scale":{"domain":["a","b","c","d","e"],"range":[[1,0],[1.6,1.2],[1,0],[3,1.6],[1,0]]},"legend":{"labelExpr":"datum.label=='a'?'α₀ = 1.0':datum.label=='b'?'pU , α̂U':datum.label=='c'?'pU , α̂L':datum.label=='d'?'pL , α̂U':'pL , α̂L'"}},
        "strokeWidth":{"field":"s","type":"nominal","title":null,"scale":{"domain":["a","b","c","d","e"],"range":[2.2,1.8,0.8,1.3,0.9]},"legend":{"labelExpr":"datum.label=='a'?'α₀ = 1.0':datum.label=='b'?'pU , α̂U':datum.label=='c'?'pU , α̂L':datum.label=='d'?'pL , α̂U':'pL , α̂L'"}}}},
      {"data":{"values":[{}]},"mark":{"type":"rule","strokeDash":[1,1.5],"color":"#000","strokeWidth":0.9},"encoding":{"x":{"datum":1,"type":"quantitative"},"y":{"datum":0.00087,"type":"quantitative"},"y2":{"datum":0.04}}}
     ]},
    {"width":87,"height":84,
     "title":{"text":"3.0s","orient":"left","angle":0,"anchor":"middle","frame":"group","align":"center","baseline":"middle","offset":0},
     "layer":[
      {"data":{"name":"c"},"transform":[{"filter":"datum.p=='8A2'"}],"mark":{"type":"line","clip":true,"interpolate":"monotone"},
       "encoding":{
        "x":{"field":"x","type":"quantitative","scale":{"domain":[0,1.18],"nice":false,"zero":false},"axis":{"values":[0,0.5,1],"format":"~r","title":"γFd  [-]"}},
        "y":{"field":"y","type":"quantitative","scale":{"type":"log","domain":[0.00095,0.36],"nice":false},"axis":{"values":[0.001,0.01,0.1],"title":"GFd(γFd)  [-]","labelExpr":"'10'+replace(replace(replace(replace(replace(replace(replace(''+round(log(datum.value)/LN10),'-','⁻'),'1','¹'),'2','²'),'3','³'),'4','⁴'),'5','⁵'),'6','⁶')"}},
        "color":{"field":"s","type":"nominal","title":null,"scale":{"domain":["a","b","c","d","e"],"range":["#000000","#1c1cd8","#5a5aff","#e3262b","#f07070"]},"legend":{"labelExpr":"datum.label=='a'?'α₀ = 1.0':datum.label=='b'?'pU , α̂U':datum.label=='c'?'pU , α̂L':datum.label=='d'?'pL , α̂U':'pL , α̂L'"}},
        "strokeDash":{"field":"s","type":"nominal","title":null,"scale":{"domain":["a","b","c","d","e"],"range":[[1,0],[1.6,1.2],[1,0],[3,1.6],[1,0]]},"legend":{"labelExpr":"datum.label=='a'?'α₀ = 1.0':datum.label=='b'?'pU , α̂U':datum.label=='c'?'pU , α̂L':datum.label=='d'?'pL , α̂U':'pL , α̂L'"}},
        "strokeWidth":{"field":"s","type":"nominal","title":null,"scale":{"domain":["a","b","c","d","e"],"range":[2.2,1.8,0.8,1.3,0.9]},"legend":{"labelExpr":"datum.label=='a'?'α₀ = 1.0':datum.label=='b'?'pU , α̂U':datum.label=='c'?'pU , α̂L':datum.label=='d'?'pL , α̂U':'pL , α̂L'"}}}},
      {"data":{"values":[{}]},"mark":{"type":"rule","strokeDash":[1,1.5],"color":"#000","strokeWidth":0.9},"encoding":{"x":{"datum":1,"type":"quantitative"},"y":{"datum":0.00095,"type":"quantitative"},"y2":{"datum":0.011}}}
     ]}
   ]},
   {"spacing":9,"resolve":{"scale":{"color":"independent","strokeDash":"independent","strokeWidth":"independent"}},"vconcat":[
    {"width":88,"height":84,
     "layer":[
      {"data":{"name":"c"},"transform":[{"filter":"datum.p=='8B1'"}],"mark":{"type":"line","clip":true,"interpolate":"monotone"},
       "encoding":{
        "x":{"field":"x","type":"quantitative","scale":{"domain":[0.42,7.46],"nice":false,"zero":false},"axis":{"values":[2,4,6],"format":"~r","title":"γFd  [-]"}},
        "y":{"field":"y","type":"quantitative","scale":{"type":"log","domain":[1e-6,0.0035],"nice":false},"axis":{"values":[1e-6,1e-4],"title":null,"labelExpr":"'10'+replace(replace(replace(replace(replace(replace(replace(''+round(log(datum.value)/LN10),'-','⁻'),'1','¹'),'2','²'),'3','³'),'4','⁴'),'5','⁵'),'6','⁶')"}},
        "color":{"field":"s","type":"nominal","scale":{"domain":["a","b","c","d","e"],"range":["#000000","#1c1cd8","#5a5aff","#e3262b","#f07070"]},"legend":null},
        "strokeDash":{"field":"s","type":"nominal","scale":{"domain":["a","b","c","d","e"],"range":[[1,0],[1.6,1.2],[1,0],[3,1.6],[1,0]]},"legend":null},
        "strokeWidth":{"field":"s","type":"nominal","scale":{"domain":["a","b","c","d","e"],"range":[2.2,1.8,0.8,1.3,0.9]},"legend":null}}},
      {"data":{"values":[{}]},"mark":{"type":"rule","strokeDash":[1,1.5],"color":"#000","strokeWidth":0.9},"encoding":{"x":{"datum":1,"type":"quantitative"}}}
     ]},
    {"width":86,"height":84,
     "layer":[
      {"data":{"name":"c"},"transform":[{"filter":"datum.p=='8B2'"}],"mark":{"type":"line","clip":true,"interpolate":"monotone"},
       "encoding":{
        "x":{"field":"x","type":"quantitative","scale":{"domain":[0.74,10.3],"nice":false,"zero":false},"axis":{"values":[2,4,6,8,10],"format":"~r","title":"γFd  [-]"}},
        "y":{"field":"y","type":"quantitative","scale":{"type":"log","domain":[1e-6,0.0055],"nice":false},"axis":{"values":[1e-6,1e-4],"title":null,"labelExpr":"'10'+replace(replace(replace(replace(replace(replace(replace(''+round(log(datum.value)/LN10),'-','⁻'),'1','¹'),'2','²'),'3','³'),'4','⁴'),'5','⁵'),'6','⁶')"}},
        "color":{"field":"s","type":"nominal","scale":{"domain":["a","b","c","d","e"],"range":["#000000","#1c1cd8","#5a5aff","#e3262b","#f07070"]},"legend":null},
        "strokeDash":{"field":"s","type":"nominal","scale":{"domain":["a","b","c","d","e"],"range":[[1,0],[1.6,1.2],[1,0],[3,1.6],[1,0]]},"legend":null},
        "strokeWidth":{"field":"s","type":"nominal","scale":{"domain":["a","b","c","d","e"],"range":[2.2,1.8,0.8,1.3,0.9]},"legend":null}}},
      {"data":{"values":[{}]},"mark":{"type":"rule","strokeDash":[1,1.5],"color":"#000","strokeWidth":0.9},"encoding":{"x":{"datum":1,"type":"quantitative"}}}
     ]}
   ]}
  ]},
  {"spacing":9,"resolve":{"scale":{"color":"independent","strokeDash":"independent","strokeWidth":"independent"}},"vconcat":[
   {"width":135,"height":84,
    "layer":[
     {"data":{"name":"c"},"transform":[{"filter":"datum.p=='8C1'"}],"mark":{"type":"line","clip":true,"interpolate":"monotone"},
      "encoding":{
       "x":{"field":"x","type":"quantitative","scale":{"domain":[0,3.19],"nice":false,"zero":false},"axis":{"values":[0,1,2,3],"format":"~r","title":"γFd  [-]"}},
       "y":{"field":"y","type":"quantitative","scale":{"type":"log","domain":[1e-6,0.2],"nice":false},"axis":{"values":[1e-6,1e-4,1e-2],"title":"GFd(γFd)  [-]","labelExpr":"'10'+replace(replace(replace(replace(replace(replace(replace(''+round(log(datum.value)/LN10),'-','⁻'),'1','¹'),'2','²'),'3','³'),'4','⁴'),'5','⁵'),'6','⁶')"}},
       "color":{"field":"s","type":"nominal","title":null,"scale":{"domain":["a","b","c","d","e"],"range":["#000000","#1c1cd8","#5a5aff","#e3262b","#f07070"]},"legend":{"labelExpr":"datum.label=='a'?'α₀ = 0.3':datum.label=='b'?'pU , α̂U':datum.label=='c'?'pU , α̂L':datum.label=='d'?'pL , α̂U':'pL , α̂L'"}},
       "strokeDash":{"field":"s","type":"nominal","title":null,"scale":{"domain":["a","b","c","d","e"],"range":[[1,0],[1.6,1.2],[1,0],[3,1.6],[1,0]]},"legend":{"labelExpr":"datum.label=='a'?'α₀ = 0.3':datum.label=='b'?'pU , α̂U':datum.label=='c'?'pU , α̂L':datum.label=='d'?'pL , α̂U':'pL , α̂L'"}},
       "strokeWidth":{"field":"s","type":"nominal","title":null,"scale":{"domain":["a","b","c","d","e"],"range":[2.2,1.8,0.8,1.3,0.9]},"legend":{"labelExpr":"datum.label=='a'?'α₀ = 0.3':datum.label=='b'?'pU , α̂U':datum.label=='c'?'pU , α̂L':datum.label=='d'?'pL , α̂U':'pL , α̂L'"}}}},
     {"data":{"values":[{}]},"mark":{"type":"rule","strokeDash":[1,1.5],"color":"#000","strokeWidth":0.9},"encoding":{"x":{"datum":1,"type":"quantitative"}}}
    ]},
   {"width":136,"height":84,
    "layer":[
     {"data":{"name":"c"},"transform":[{"filter":"datum.p=='8C2'"}],"mark":{"type":"line","clip":true,"interpolate":"monotone"},
      "encoding":{
       "x":{"field":"x","type":"quantitative","scale":{"domain":[0,3.55],"nice":false,"zero":false},"axis":{"values":[0,1,2,3],"format":"~r","title":"γFd  [-]"}},
       "y":{"field":"y","type":"quantitative","scale":{"type":"log","domain":[1e-6,0.3],"nice":false},"axis":{"values":[1e-6,1e-4,1e-2],"title":"GFd(γFd)  [-]","labelExpr":"'10'+replace(replace(replace(replace(replace(replace(replace(''+round(log(datum.value)/LN10),'-','⁻'),'1','¹'),'2','²'),'3','³'),'4','⁴'),'5','⁵'),'6','⁶')"}},
       "color":{"field":"s","type":"nominal","title":null,"scale":{"domain":["a","b","c","d","e"],"range":["#000000","#1c1cd8","#5a5aff","#e3262b","#f07070"]},"legend":{"labelExpr":"datum.label=='a'?'α₀ = 0.3':datum.label=='b'?'pU , α̂U':datum.label=='c'?'pU , α̂L':datum.label=='d'?'pL , α̂U':'pL , α̂L'"}},
       "strokeDash":{"field":"s","type":"nominal","title":null,"scale":{"domain":["a","b","c","d","e"],"range":[[1,0],[1.6,1.2],[1,0],[3,1.6],[1,0]]},"legend":{"labelExpr":"datum.label=='a'?'α₀ = 0.3':datum.label=='b'?'pU , α̂U':datum.label=='c'?'pU , α̂L':datum.label=='d'?'pL , α̂U':'pL , α̂L'"}},
       "strokeWidth":{"field":"s","type":"nominal","title":null,"scale":{"domain":["a","b","c","d","e"],"range":[2.2,1.8,0.8,1.3,0.9]},"legend":{"labelExpr":"datum.label=='a'?'α₀ = 0.3':datum.label=='b'?'pU , α̂U':datum.label=='c'?'pU , α̂L':datum.label=='d'?'pL , α̂U':'pL , α̂L'"}}}},
     {"data":{"values":[{}]},"mark":{"type":"rule","strokeDash":[1,1.5],"color":"#000","strokeWidth":0.9},"encoding":{"x":{"datum":1,"type":"quantitative"}}}
    ]}
  ]}
 ]},
{"title":{"text":"T","anchor":"start","dx":26,"dy":9,"fontStyle":"italic","offset":0},
 "spacing":3,
 "resolve":{"scale":{"color":"independent","strokeDash":"independent","strokeWidth":"independent"}},
 "hconcat":[
  {"title":{"text":"Linear (α = 1.00)","anchor":"middle","dx":8,"offset":2},"spacing":5,
   "resolve":{"scale":{"color":"independent","strokeDash":"independent","strokeWidth":"independent"}},
   "hconcat":[
    {"title":{"text":"P > P*","anchor":"middle","fontStyle":"italic","dx":13,"offset":4},"spacing":17,
     "resolve":{"scale":{"color":"independent","strokeDash":"independent","strokeWidth":"independent"}},
     "vconcat":[
      {"spacing":5,"resolve":{"scale":{"color":"independent","strokeDash":"independent","strokeWidth":"independent"}},"vconcat":[
       {"width":84,"height":83,
        "title":{"text":"0.5s","orient":"left","angle":0,"anchor":"middle","frame":"group","align":"center","baseline":"middle","offset":0},
        "layer":[
         {"data":{"name":"c"},"transform":[{"filter":"datum.p=='9A1'"}],"mark":{"type":"line","clip":true,"interpolate":"monotone"},
          "encoding":{
           "x":{"field":"x","type":"quantitative","scale":{"domain":[0,1.06],"nice":false,"zero":false},"axis":{"values":[0,0.5,1],"format":"~r","title":"γAcc  [-]"}},
           "y":{"field":"y","type":"quantitative","scale":{"type":"log","domain":[0.00093,0.305],"nice":false},"axis":{"values":[0.001,0.01,0.1],"title":"GA(a)  [-]","labelExpr":"'10'+replace(replace(replace(replace(replace(replace(replace(''+round(log(datum.value)/LN10),'-','⁻'),'1','¹'),'2','²'),'3','³'),'4','⁴'),'5','⁵'),'6','⁶')"}},
           "color":{"field":"s","type":"nominal","title":null,"scale":{"domain":["a","b","c","d","e"],"range":["#000000","#1c1cd8","#5a5aff","#e3262b","#f07070"]},"legend":{"labelExpr":"datum.label=='a'?'α₀ = 1.0':datum.label=='b'?'pU , α̂U':datum.label=='c'?'pU , α̂L':datum.label=='d'?'pL , α̂U':'pL , α̂L'"}},
           "strokeDash":{"field":"s","type":"nominal","title":null,"scale":{"domain":["a","b","c","d","e"],"range":[[1,0],[1.6,1.2],[1,0],[3,1.6],[1,0]]},"legend":{"labelExpr":"datum.label=='a'?'α₀ = 1.0':datum.label=='b'?'pU , α̂U':datum.label=='c'?'pU , α̂L':datum.label=='d'?'pL , α̂U':'pL , α̂L'"}},
           "strokeWidth":{"field":"s","type":"nominal","title":null,"scale":{"domain":["a","b","c","d","e"],"range":[2.2,1.8,0.8,1.3,0.9]},"legend":{"labelExpr":"datum.label=='a'?'α₀ = 1.0':datum.label=='b'?'pU , α̂U':datum.label=='c'?'pU , α̂L':datum.label=='d'?'pL , α̂U':'pL , α̂L'"}}}},
         {"data":{"values":[{}]},"mark":{"type":"rule","strokeDash":[1,1.5],"color":"#000","strokeWidth":0.9},"encoding":{"x":{"datum":1,"type":"quantitative"},"y":{"datum":0.00093,"type":"quantitative"},"y2":{"datum":0.012}}}
        ]},
       {"width":84,"height":80,
        "title":{"text":"1.0s","orient":"left","angle":0,"anchor":"middle","frame":"group","align":"center","baseline":"middle","offset":0},
        "layer":[
         {"data":{"name":"c"},"transform":[{"filter":"datum.p=='9A2'"}],"mark":{"type":"line","clip":true,"interpolate":"monotone"},
          "encoding":{
           "x":{"field":"x","type":"quantitative","scale":{"domain":[0,1.23],"nice":false,"zero":false},"axis":{"values":[0,0.5,1],"format":"~r","title":"γAcc  [-]"}},
           "y":{"field":"y","type":"quantitative","scale":{"type":"log","domain":[0.001,0.3],"nice":false},"axis":{"values":[0.001,0.01,0.1],"title":"GA(a)  [-]","labelExpr":"'10'+replace(replace(replace(replace(replace(replace(replace(''+round(log(datum.value)/LN10),'-','⁻'),'1','¹'),'2','²'),'3','³'),'4','⁴'),'5','⁵'),'6','⁶')"}},
           "color":{"field":"s","type":"nominal","title":null,"scale":{"domain":["a","b","c","d","e"],"range":["#000000","#1c1cd8","#5a5aff","#e3262b","#f07070"]},"legend":{"labelExpr":"datum.label=='a'?'α₀ = 1.0':datum.label=='b'?'pU , α̂U':datum.label=='c'?'pU , α̂L':datum.label=='d'?'pL , α̂U':'pL , α̂L'"}},
           "strokeDash":{"field":"s","type":"nominal","title":null,"scale":{"domain":["a","b","c","d","e"],"range":[[1,0],[1.6,1.2],[1,0],[3,1.6],[1,0]]},"legend":{"labelExpr":"datum.label=='a'?'α₀ = 1.0':datum.label=='b'?'pU , α̂U':datum.label=='c'?'pU , α̂L':datum.label=='d'?'pL , α̂U':'pL , α̂L'"}},
           "strokeWidth":{"field":"s","type":"nominal","title":null,"scale":{"domain":["a","b","c","d","e"],"range":[2.2,1.8,0.8,1.3,0.9]},"legend":{"labelExpr":"datum.label=='a'?'α₀ = 1.0':datum.label=='b'?'pU , α̂U':datum.label=='c'?'pU , α̂L':datum.label=='d'?'pL , α̂U':'pL , α̂L'"}}}},
         {"data":{"values":[{}]},"mark":{"type":"rule","strokeDash":[1,1.5],"color":"#000","strokeWidth":0.9},"encoding":{"x":{"datum":1,"type":"quantitative"},"y":{"datum":0.001,"type":"quantitative"},"y2":{"datum":0.02}}}
        ]}
      ]},
      {"width":84,"height":82,
       "title":{"text":"3.0s","orient":"left","angle":0,"anchor":"middle","frame":"group","align":"center","baseline":"middle","offset":0},
       "layer":[
        {"data":{"name":"c"},"transform":[{"filter":"datum.p=='9A3'"}],"mark":{"type":"line","clip":true,"interpolate":"monotone"},
         "encoding":{
          "x":{"field":"x","type":"quantitative","scale":{"domain":[0,1.06],"nice":false,"zero":false},"axis":{"values":[0,0.5,1],"format":"~r","title":"γAcc  [-]"}},
          "y":{"field":"y","type":"quantitative","scale":{"type":"log","domain":[0.0008,0.25],"nice":false},"axis":{"values":[0.001,0.01,0.1],"title":"GA(a)  [-]","labelExpr":"'10'+replace(replace(replace(replace(replace(replace(replace(''+round(log(datum.value)/LN10),'-','⁻'),'1','¹'),'2','²'),'3','³'),'4','⁴'),'5','⁵'),'6','⁶')"}},
          "color":{"field":"s","type":"nominal","title":null,"scale":{"domain":["a","b","c","d","e"],"range":["#000000","#1c1cd8","#5a5aff","#e3262b","#f07070"]},"legend":{"labelExpr":"datum.label=='a'?'α₀ = 1.0':datum.label=='b'?'pU , α̂U':datum.label=='c'?'pU , α̂L':datum.label=='d'?'pL , α̂U':'pL , α̂L'"}},
          "strokeDash":{"field":"s","type":"nominal","title":null,"scale":{"domain":["a","b","c","d","e"],"range":[[1,0],[1.6,1.2],[1,0],[3,1.6],[1,0]]},"legend":{"labelExpr":"datum.label=='a'?'α₀ = 1.0':datum.label=='b'?'pU , α̂U':datum.label=='c'?'pU , α̂L':datum.label=='d'?'pL , α̂U':'pL , α̂L'"}},
          "strokeWidth":{"field":"s","type":"nominal","title":null,"scale":{"domain":["a","b","c","d","e"],"range":[2.2,1.8,0.8,1.3,0.9]},"legend":{"labelExpr":"datum.label=='a'?'α₀ = 1.0':datum.label=='b'?'pU , α̂U':datum.label=='c'?'pU , α̂L':datum.label=='d'?'pL , α̂U':'pL , α̂L'"}}}},
        {"data":{"values":[{}]},"mark":{"type":"rule","strokeDash":[1,1.5],"color":"#000","strokeWidth":0.9},"encoding":{"x":{"datum":1,"type":"quantitative"},"y":{"datum":0.0008,"type":"quantitative"},"y2":{"datum":0.012}}}
       ]}
     ]},
    {"title":{"text":"P < P*","anchor":"middle","fontStyle":"italic","dx":5,"offset":4},"spacing":17,
     "resolve":{"scale":{"color":"independent","strokeDash":"independent","strokeWidth":"independent"}},
     "vconcat":[
      {"spacing":5,"resolve":{"scale":{"color":"independent","strokeDash":"independent","strokeWidth":"independent"}},"vconcat":[
       {"width":85,"height":83,
        "layer":[
         {"data":{"name":"c"},"transform":[{"filter":"datum.p=='9B1'"}],"mark":{"type":"line","clip":true,"interpolate":"monotone"},
          "encoding":{
           "x":{"field":"x","type":"quantitative","scale":{"domain":[0.5,6.26],"nice":false,"zero":false},"axis":{"values":[2,4,6],"format":"~r","title":"γAcc  [-]"}},
           "y":{"field":"y","type":"quantitative","scale":{"type":"log","domain":[1e-6,0.0034],"nice":false},"axis":{"values":[1e-6,1e-4],"title":null,"labelExpr":"'10'+replace(replace(replace(replace(replace(replace(replace(''+round(log(datum.value)/LN10),'-','⁻'),'1','¹'),'2','²'),'3','³'),'4','⁴'),'5','⁵'),'6','⁶')"}},
           "color":{"field":"s","type":"nominal","scale":{"domain":["a","b","c","d","e"],"range":["#000000","#1c1cd8","#5a5aff","#e3262b","#f07070"]},"legend":null},
           "strokeDash":{"field":"s","type":"nominal","scale":{"domain":["a","b","c","d","e"],"range":[[1,0],[1.6,1.2],[1,0],[3,1.6],[1,0]]},"legend":null},
           "strokeWidth":{"field":"s","type":"nominal","scale":{"domain":["a","b","c","d","e"],"range":[2.2,1.8,0.8,1.3,0.9]},"legend":null}}},
         {"data":{"values":[{}]},"mark":{"type":"rule","strokeDash":[1,1.5],"color":"#000","strokeWidth":0.9},"encoding":{"x":{"datum":1,"type":"quantitative"}}}
        ]},
       {"width":86,"height":80,
        "layer":[
         {"data":{"name":"c"},"transform":[{"filter":"datum.p=='9B2'"}],"mark":{"type":"line","clip":true,"interpolate":"monotone"},
          "encoding":{
           "x":{"field":"x","type":"quantitative","scale":{"domain":[0.82,7.7],"nice":false,"zero":false},"axis":{"values":[2,4,6],"format":"~r","title":"γAcc  [-]"}},
           "y":{"field":"y","type":"quantitative","scale":{"type":"log","domain":[1e-6,0.008],"nice":false},"axis":{"values":[1e-6,1e-4],"title":null,"labelExpr":"'10'+replace(replace(replace(replace(replace(replace(replace(''+round(log(datum.value)/LN10),'-','⁻'),'1','¹'),'2','²'),'3','³'),'4','⁴'),'5','⁵'),'6','⁶')"}},
           "color":{"field":"s","type":"nominal","scale":{"domain":["a","b","c","d","e"],"range":["#000000","#1c1cd8","#5a5aff","#e3262b","#f07070"]},"legend":null},
           "strokeDash":{"field":"s","type":"nominal","scale":{"domain":["a","b","c","d","e"],"range":[[1,0],[1.6,1.2],[1,0],[3,1.6],[1,0]]},"legend":null},
           "strokeWidth":{"field":"s","type":"nominal","scale":{"domain":["a","b","c","d","e"],"range":[2.2,1.8,0.8,1.3,0.9]},"legend":null}}},
         {"data":{"values":[{}]},"mark":{"type":"rule","strokeDash":[1,1.5],"color":"#000","strokeWidth":0.9},"encoding":{"x":{"datum":1,"type":"quantitative"}}}
        ]}
      ]},
      {"width":88,"height":82,
       "layer":[
        {"data":{"name":"c"},"transform":[{"filter":"datum.p=='9B3'"}],"mark":{"type":"line","clip":true,"interpolate":"monotone"},
         "encoding":{
          "x":{"field":"x","type":"quantitative","scale":{"domain":[0.65,9],"nice":false,"zero":false},"axis":{"values":[2,4,6,8],"format":"~r","title":"γAcc  [-]"}},
          "y":{"field":"y","type":"quantitative","scale":{"type":"log","domain":[1e-6,0.0048],"nice":false},"axis":{"values":[1e-6,1e-4],"title":null,"labelExpr":"'10'+replace(replace(replace(replace(replace(replace(''+abs(round(log(datum.value)/LN10)),'1','¹'),'2','²'),'3','³'),'4','⁴'),'5','⁵'),'6','⁶')"}},
          "color":{"field":"s","type":"nominal","scale":{"domain":["a","b","c","d","e"],"range":["#000000","#1c1cd8","#5a5aff","#e3262b","#f07070"]},"legend":null},
          "strokeDash":{"field":"s","type":"nominal","scale":{"domain":["a","b","c","d","e"],"range":[[1,0],[1.6,1.2],[1,0],[3,1.6],[1,0]]},"legend":null},
          "strokeWidth":{"field":"s","type":"nominal","scale":{"domain":["a","b","c","d","e"],"range":[2.2,1.8,0.8,1.3,0.9]},"legend":null}}},
        {"data":{"values":[{}]},"mark":{"type":"rule","strokeDash":[1,1.5],"color":"#000","strokeWidth":0.9},"encoding":{"x":{"datum":1,"type":"quantitative"}}}
       ]}
     ]}
   ]},
  {"title":{"text":"Nonlinear (α = 0.30)","anchor":"middle","dx":6,"offset":2},"spacing":4,
   "resolve":{"scale":{"color":"independent","strokeDash":"independent","strokeWidth":"independent"}},
   "hconcat":[
    {"title":{"text":"P > P*","anchor":"middle","fontStyle":"italic","dx":14,"offset":4},"spacing":17,
     "resolve":{"scale":{"color":"independent","strokeDash":"independent","strokeWidth":"independent"}},
     "vconcat":[
      {"spacing":5,"resolve":{"scale":{"color":"independent","strokeDash":"independent","strokeWidth":"independent"}},"vconcat":[
       {"width":86,"height":83,
        "layer":[
         {"data":{"name":"c"},"transform":[{"filter":"datum.p=='9C1'"}],"mark":{"type":"line","clip":true,"interpolate":"monotone"},
          "encoding":{
           "x":{"field":"x","type":"quantitative","scale":{"domain":[0,1.21],"nice":false,"zero":false},"axis":{"values":[0,0.5,1],"format":"~r","title":"γAcc  [-]"}},
           "y":{"field":"y","type":"quantitative","scale":{"type":"log","domain":[0.001,0.3],"nice":false},"axis":{"values":[0.001,0.01,0.1],"title":"GA(a)  [-]","labelExpr":"'10'+replace(replace(replace(replace(replace(replace(replace(''+round(log(datum.value)/LN10),'-','⁻'),'1','¹'),'2','²'),'3','³'),'4','⁴'),'5','⁵'),'6','⁶')"}},
           "color":{"field":"s","type":"nominal","title":null,"scale":{"domain":["a","b","c","d","e"],"range":["#000000","#1c1cd8","#5a5aff","#e3262b","#f07070"]},"legend":{"labelExpr":"datum.label=='a'?'α₀ = 0.3':datum.label=='b'?'pU , α̂U':datum.label=='c'?'pU , α̂L':datum.label=='d'?'pL , α̂U':'pL , α̂L'"}},
           "strokeDash":{"field":"s","type":"nominal","title":null,"scale":{"domain":["a","b","c","d","e"],"range":[[1,0],[1.6,1.2],[1,0],[3,1.6],[1,0]]},"legend":{"labelExpr":"datum.label=='a'?'α₀ = 0.3':datum.label=='b'?'pU , α̂U':datum.label=='c'?'pU , α̂L':datum.label=='d'?'pL , α̂U':'pL , α̂L'"}},
           "strokeWidth":{"field":"s","type":"nominal","title":null,"scale":{"domain":["a","b","c","d","e"],"range":[2.2,1.8,0.8,1.3,0.9]},"legend":{"labelExpr":"datum.label=='a'?'α₀ = 0.3':datum.label=='b'?'pU , α̂U':datum.label=='c'?'pU , α̂L':datum.label=='d'?'pL , α̂U':'pL , α̂L'"}}}},
         {"data":{"values":[{}]},"mark":{"type":"rule","strokeDash":[1,1.5],"color":"#000","strokeWidth":0.9},"encoding":{"x":{"datum":1,"type":"quantitative"},"y":{"datum":0.001,"type":"quantitative"},"y2":{"datum":0.01}}}
        ]},
       {"width":84,"height":80,
        "layer":[
         {"data":{"name":"c"},"transform":[{"filter":"datum.p=='9C2'"}],"mark":{"type":"line","clip":true,"interpolate":"monotone"},
          "encoding":{
           "x":{"field":"x","type":"quantitative","scale":{"domain":[0.1,1.04],"nice":false,"zero":false},"axis":{"values":[0.2,0.4,0.6,0.8,1],"format":"~r","title":"γAcc  [-]"}},
           "y":{"field":"y","type":"quantitative","scale":{"type":"log","domain":[0.00093,0.22],"nice":false},"axis":{"values":[0.001,0.01,0.1],"title":"GA(a)  [-]","labelExpr":"'10'+replace(replace(replace(replace(replace(replace(replace(''+round(log(datum.value)/LN10),'-','⁻'),'1','¹'),'2','²'),'3','³'),'4','⁴'),'5','⁵'),'6','⁶')"}},
           "color":{"field":"s","type":"nominal","title":null,"scale":{"domain":["a","b","c","d","e"],"range":["#000000","#1c1cd8","#5a5aff","#e3262b","#f07070"]},"legend":{"labelExpr":"datum.label=='a'?'α₀ = 0.3':datum.label=='b'?'pU , α̂U':datum.label=='c'?'pU , α̂L':datum.label=='d'?'pL , α̂U':'pL , α̂L'"}},
           "strokeDash":{"field":"s","type":"nominal","title":null,"scale":{"domain":["a","b","c","d","e"],"range":[[1,0],[1.6,1.2],[1,0],[3,1.6],[1,0]]},"legend":{"labelExpr":"datum.label=='a'?'α₀ = 0.3':datum.label=='b'?'pU , α̂U':datum.label=='c'?'pU , α̂L':datum.label=='d'?'pL , α̂U':'pL , α̂L'"}},
           "strokeWidth":{"field":"s","type":"nominal","title":null,"scale":{"domain":["a","b","c","d","e"],"range":[2.2,1.8,0.8,1.3,0.9]},"legend":{"labelExpr":"datum.label=='a'?'α₀ = 0.3':datum.label=='b'?'pU , α̂U':datum.label=='c'?'pU , α̂L':datum.label=='d'?'pL , α̂U':'pL , α̂L'"}}}},
         {"data":{"values":[{}]},"mark":{"type":"rule","strokeDash":[1,1.5],"color":"#000","strokeWidth":0.9},"encoding":{"x":{"datum":1,"type":"quantitative"}}}
        ]}
      ]},
      {"width":85,"height":82,
       "layer":[
        {"data":{"name":"c"},"transform":[{"filter":"datum.p=='9C3'"}],"mark":{"type":"line","clip":true,"interpolate":"monotone"},
         "encoding":{
          "x":{"field":"x","type":"quantitative","scale":{"domain":[0,1.08],"nice":false,"zero":false},"axis":{"values":[0,0.5,1],"format":"~r","title":"γAcc  [-]"}},
          "y":{"field":"y","type":"quantitative","scale":{"type":"log","domain":[0.001,0.275],"nice":false},"axis":{"values":[0.001,0.01,0.1],"title":"GA(a)  [-]","labelExpr":"'10'+replace(replace(replace(replace(replace(replace(''+abs(round(log(datum.value)/LN10)),'1','¹'),'2','²'),'3','³'),'4','⁴'),'5','⁵'),'6','⁶')"}},
          "color":{"field":"s","type":"nominal","title":null,"scale":{"domain":["a","b","c","d","e"],"range":["#000000","#1c1cd8","#5a5aff","#e3262b","#f07070"]},"legend":{"labelExpr":"datum.label=='a'?'α₀ = 0.3':datum.label=='b'?'pU , α̂U':datum.label=='c'?'pU , α̂L':datum.label=='d'?'pL , α̂U':'pL , α̂L'"}},
          "strokeDash":{"field":"s","type":"nominal","title":null,"scale":{"domain":["a","b","c","d","e"],"range":[[1,0],[1.6,1.2],[1,0],[3,1.6],[1,0]]},"legend":{"labelExpr":"datum.label=='a'?'α₀ = 0.3':datum.label=='b'?'pU , α̂U':datum.label=='c'?'pU , α̂L':datum.label=='d'?'pL , α̂U':'pL , α̂L'"}},
          "strokeWidth":{"field":"s","type":"nominal","title":null,"scale":{"domain":["a","b","c","d","e"],"range":[2.2,1.8,0.8,1.3,0.9]},"legend":{"labelExpr":"datum.label=='a'?'α₀ = 0.3':datum.label=='b'?'pU , α̂U':datum.label=='c'?'pU , α̂L':datum.label=='d'?'pL , α̂U':'pL , α̂L'"}}}},
        {"data":{"values":[{}]},"mark":{"type":"rule","strokeDash":[1,1.5],"color":"#000","strokeWidth":0.9},"encoding":{"x":{"datum":1,"type":"quantitative"},"y":{"datum":0.001,"type":"quantitative"},"y2":{"datum":0.012}}}
       ]}
     ]},
    {"title":{"text":"P < P*","anchor":"middle","fontStyle":"italic","dx":14,"offset":4},"spacing":17,
     "resolve":{"scale":{"color":"independent","strokeDash":"independent","strokeWidth":"independent"}},
     "vconcat":[
      {"spacing":5,"resolve":{"scale":{"color":"independent","strokeDash":"independent","strokeWidth":"independent"}},"vconcat":[
       {"width":85,"height":83,
        "layer":[
         {"data":{"name":"c"},"transform":[{"filter":"datum.p=='9D1'"}],"mark":{"type":"line","clip":true,"interpolate":"monotone"},
          "encoding":{
           "x":{"field":"x","type":"quantitative","scale":{"domain":[0.7,8.7],"nice":false,"zero":false},"axis":{"values":[2,4,6,8],"format":"~r","title":"γAcc  [-]"}},
           "y":{"field":"y","type":"quantitative","scale":{"type":"log","domain":[1e-6,0.0056],"nice":false},"axis":{"values":[1e-6,1e-4],"title":null,"labelExpr":"'10'+replace(replace(replace(replace(replace(replace(replace(''+round(log(datum.value)/LN10),'-','⁻'),'1','¹'),'2','²'),'3','³'),'4','⁴'),'5','⁵'),'6','⁶')"}},
           "color":{"field":"s","type":"nominal","scale":{"domain":["a","b","c","d","e"],"range":["#000000","#1c1cd8","#5a5aff","#e3262b","#f07070"]},"legend":null},
           "strokeDash":{"field":"s","type":"nominal","scale":{"domain":["a","b","c","d","e"],"range":[[1,0],[1.6,1.2],[1,0],[3,1.6],[1,0]]},"legend":null},
           "strokeWidth":{"field":"s","type":"nominal","scale":{"domain":["a","b","c","d","e"],"range":[2.2,1.8,0.8,1.3,0.9]},"legend":null}}},
         {"data":{"values":[{}]},"mark":{"type":"rule","strokeDash":[1,1.5],"color":"#000","strokeWidth":0.9},"encoding":{"x":{"datum":1,"type":"quantitative"}}}
        ]},
       {"width":83,"height":80,
        "layer":[
         {"data":{"name":"c"},"transform":[{"filter":"datum.p=='9D2'"}],"mark":{"type":"line","clip":true,"interpolate":"monotone"},
          "encoding":{
           "x":{"field":"x","type":"quantitative","scale":{"domain":[0.9,10.7],"nice":false,"zero":false},"axis":{"values":[2,4,6,8,10],"format":"~r","title":"γAcc  [-]"}},
           "y":{"field":"y","type":"quantitative","scale":{"type":"log","domain":[1e-6,0.0047],"nice":false},"axis":{"values":[1e-6,1e-4],"title":null,"labelExpr":"'10'+replace(replace(replace(replace(replace(replace(replace(''+round(log(datum.value)/LN10),'-','⁻'),'1','¹'),'2','²'),'3','³'),'4','⁴'),'5','⁵'),'6','⁶')"}},
           "color":{"field":"s","type":"nominal","scale":{"domain":["a","b","c","d","e"],"range":["#000000","#1c1cd8","#5a5aff","#e3262b","#f07070"]},"legend":null},
           "strokeDash":{"field":"s","type":"nominal","scale":{"domain":["a","b","c","d","e"],"range":[[1,0],[1.6,1.2],[1,0],[3,1.6],[1,0]]},"legend":null},
           "strokeWidth":{"field":"s","type":"nominal","scale":{"domain":["a","b","c","d","e"],"range":[2.2,1.8,0.8,1.3,0.9]},"legend":null}}},
         {"data":{"values":[{}]},"mark":{"type":"rule","strokeDash":[1,1.5],"color":"#000","strokeWidth":0.9},"encoding":{"x":{"datum":1,"type":"quantitative"}}}
        ]}
      ]},
      {"width":85,"height":82,
       "layer":[
        {"data":{"name":"c"},"transform":[{"filter":"datum.p=='9D3'"}],"mark":{"type":"line","clip":true,"interpolate":"monotone"},
         "encoding":{
          "x":{"field":"x","type":"quantitative","scale":{"domain":[0.6,12.54],"nice":false,"zero":false},"axis":{"values":[2,4,6,8,10,12],"format":"~r","title":"γAcc  [-]"}},
          "y":{"field":"y","type":"quantitative","scale":{"type":"log","domain":[1e-6,0.0037],"nice":false},"axis":{"values":[1e-6,1e-4],"title":null,"labelExpr":"'10'+replace(replace(replace(replace(replace(replace(replace(''+round(log(datum.value)/LN10),'-','⁻'),'1','¹'),'2','²'),'3','³'),'4','⁴'),'5','⁵'),'6','⁶')"}},
          "color":{"field":"s","type":"nominal","scale":{"domain":["a","b","c","d","e"],"range":["#000000","#1c1cd8","#5a5aff","#e3262b","#f07070"]},"legend":null},
          "strokeDash":{"field":"s","type":"nominal","scale":{"domain":["a","b","c","d","e"],"range":[[1,0],[1.6,1.2],[1,0],[3,1.6],[1,0]]},"legend":null},
          "strokeWidth":{"field":"s","type":"nominal","scale":{"domain":["a","b","c","d","e"],"range":[2.2,1.8,0.8,1.3,0.9]},"legend":null}}},
        {"data":{"values":[{}]},"mark":{"type":"rule","strokeDash":[1,1.5],"color":"#000","strokeWidth":0.9},"encoding":{"x":{"datum":1,"type":"quantitative"}}}
       ]}
     ]}
   ]}
 ]}
],
"config":{
 "view":{"stroke":"#000","strokeWidth":0.8},
 "font":"Liberation Serif",
 "axis":{"grid":false,"domain":false,"ticks":false,"labelFont":"Liberation Serif","labelFontSize":8,"labelColor":"#000","labelPadding":2,"titleFont":"Liberation Serif","titleFontSize":9,"titleFontWeight":"normal","titleFontStyle":"italic","titleColor":"#000","titlePadding":0,"labelOverlap":false,"labelFlush":false},
 "title":{"font":"Liberation Serif","fontSize":10,"fontWeight":"normal","color":"#000"},
 "legend":{"orient":"top-right","offset":1,"padding":1,"fillColor":"white","symbolType":"stroke","symbolSize":90,"rowPadding":0,"labelOffset":2,"labelFont":"Liberation Serif","labelFontSize":7.5,"labelFontStyle":"italic","labelColor":"#000","labelLimit":80}
}
}
